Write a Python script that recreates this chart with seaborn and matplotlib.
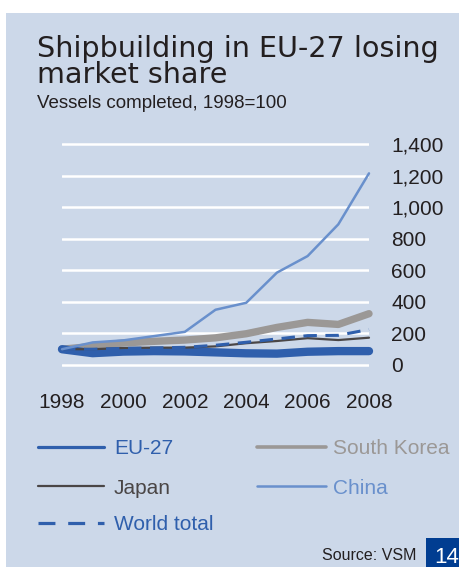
import matplotlib
matplotlib.use("Agg")
import matplotlib.pyplot as plt
from matplotlib.lines import Line2D
from matplotlib.patches import Rectangle
import pandas as pd
import seaborn as sns

# Vessels completed, index 1998 = 100
years = [1998, 1999, 2000, 2001, 2002, 2003, 2004, 2005, 2006, 2007, 2008]
eu27 = [100, 75, 85, 88, 86, 80, 74, 72, 84, 88, 88]
south_korea = [100, 118, 140, 150, 158, 172, 198, 238, 270, 257, 325]
japan = [100, 100, 108, 110, 110, 118, 138, 152, 170, 158, 173]
china = [100, 143, 156, 183, 210, 350, 394, 585, 690, 891, 1214]
world_total = [100, 100, 105, 108, 112, 125, 144, 165, 186, 188, 225]

x_ticks = [1998, 2000, 2002, 2004, 2006, 2008]
y_ticks = [0, 200, 400, 600, 800, 1000, 1200, 1400]
y_tick_labels = ["0", "200", "400", "600", "800", "1,000", "1,200", "1,400"]

title_lines = ["Shipbuilding in EU-27 losing", "market share"]
subtitle = "Vessels completed, 1998=100"
source = "Source: VSM"
page_no = "14"

PANEL = "#CCD8E9"
BLUE = "#2F5FAC"
GREY = "#9B9896"
DARK = "#4A4646"
LIGHT_BLUE = "#6990CC"
TEXT = "#231F20"

sns.set_theme(style="white")
plt.rcParams["font.family"] = ["Liberation Sans", "DejaVu Sans"]

W, H = 459, 570
fig = plt.figure(figsize=(W / 100, H / 100), dpi=100)
fig.patch.set_facecolor("white")


def fx(px):
    return px / W


def fy(py):
    return 1 - py / H


# light-blue panel behind everything
fig.patches.append(Rectangle((fx(6), fy(567)), fx(459) - fx(6), fy(13) - fy(567),
                             transform=fig.transFigure, facecolor=PANEL,
                             edgecolor="none", zorder=-5))

# plot area: 1998..2008 spans x 62..369 px, 0..1400 spans y 365..144 px
ppu = (365 - 144) / 1400
y_lo, y_hi = -30, 1430
bottom_px = 365 + 30 * ppu
top_px = 144 - 30 * ppu
ax = fig.add_axes([fx(62), fy(bottom_px), fx(369) - fx(62), fy(top_px) - fy(bottom_px)])
ax.set_facecolor("none")
ax.set_zorder(2)

df = pd.DataFrame({"year": years, "EU-27": eu27, "South Korea": south_korea,
                   "Japan": japan, "China": china, "World total": world_total})

styles = {
    "South Korea": dict(color=GREY, linewidth=5.3, zorder=2, solid_capstyle="round"),
    "EU-27": dict(color=BLUE, linewidth=6.0, zorder=3, solid_capstyle="round"),
    "Japan": dict(color=DARK, linewidth=1.6, zorder=4),
    "World total": dict(color=BLUE, linewidth=2.2, zorder=5, dashes=(4.4, 2.8)),
    "China": dict(color=LIGHT_BLUE, linewidth=1.8, zorder=6),
}
for name in ["South Korea", "EU-27", "Japan", "World total", "China"]:
    st = dict(styles[name])
    dash = st.pop("dashes", None)
    sns.lineplot(data=df, x="year", y=name, ax=ax, clip_on=False, **st)
    if dash is not None:
        ax.lines[-1].set_dashes(dash)

ax.set_xlim(1998, 2008)
ax.set_ylim(y_lo, y_hi)
ax.set_xlabel("")
ax.set_ylabel("")
for s in ax.spines.values():
    s.set_visible(False)

ax.set_yticks(y_ticks)
ax.set_yticklabels(y_tick_labels)
ax.yaxis.tick_right()
ax.tick_params(axis="y", length=0, pad=16, labelsize=15, labelcolor=TEXT)
for lab in ax.get_yticklabels():
    lab.set_horizontalalignment("left")
ax.set_xticks(x_ticks)
ax.set_xticklabels([str(t) for t in x_ticks])
ax.tick_params(axis="x", length=0, pad=17, labelsize=15, labelcolor=TEXT)
ax.grid(axis="y", color="white", linewidth=1.8, zorder=1)
ax.grid(axis="x", visible=False)
ax.set_axisbelow(True)

# titles
fig.text(fx(37), fy(57), title_lines[0], family="DejaVu Sans", fontsize=20.6,
         color=TEXT, va="baseline", ha="left")
fig.text(fx(37), fy(83), title_lines[1], family="DejaVu Sans", fontsize=20.6,
         color=TEXT, va="baseline", ha="left")
fig.text(fx(37), fy(108), subtitle, fontsize=13.5, color=TEXT, va="baseline", ha="left")

# legend
legend_items = [
    ("EU-27", BLUE, 2.3, None, 38, 104, 114, 447),
    ("Japan", DARK, 1.6, None, 38, 104, 114, 486),
    ("World total", BLUE, 2.3, (5.3, 4.0), 38, 104, 114, 523),
    ("South Korea", GREY, 2.6, None, 257, 326, 333, 447),
    ("China", LIGHT_BLUE, 1.8, None, 257, 326, 333, 486),
]
for label, col, lw, dash, x0, x1, tx, yy in legend_items:
    ln = Line2D([fx(x0), fx(x1)], [fy(yy), fy(yy)], transform=fig.transFigure,
                color=col, linewidth=lw)
    if dash is not None:
        ln.set_dashes(dash)
    fig.add_artist(ln)
    fig.text(fx(tx), fy(yy), label, fontsize=15, color=col, va="center_baseline", ha="left")

# footer
fig.text(fx(416), fy(560), source, fontsize=11.5, color=TEXT, va="baseline", ha="right")
fig.patches.append(Rectangle((fx(426), fy(567)), fx(459) - fx(426), fy(538) - fy(567),
                             transform=fig.transFigure, facecolor="#003D91",
                             edgecolor="none", zorder=1))
fig.text(fx(434), fy(563), page_no, fontsize=16, color="white", va="baseline", ha="left")

fig.savefig("out.png", dpi=100, facecolor=fig.get_facecolor())
